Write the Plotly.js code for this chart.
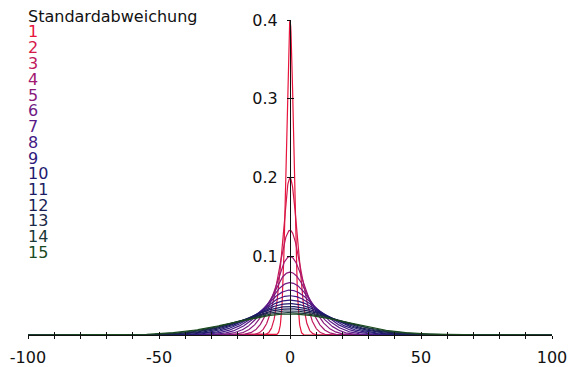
<!DOCTYPE html>
<html>
<head>
<meta charset="utf-8">
<script src="https://cdn.plot.ly/plotly-3.0.1.min.js"></script>
<style>
  html, body { margin: 0; padding: 0; background: #fff; }
  #chart { width: 571px; height: 367px; }
</style>
</head>
<body>
<div id="chart"></div>
<script>
// ---- data ----
const legendTitle = "Standardabweichung";
const sigmas = [1, 2, 3, 4, 5, 6, 7, 8, 9, 10, 11, 12, 13, 14, 15];
const mean = 0;
const seriesColors = [
  "#e8143c", "#d61848", "#c0185c", "#a21870", "#8a1a7c",
  "#701a84", "#581a88", "#421a84", "#2e1a7c", "#221a70",
  "#1c1c64", "#1a1e56", "#1a2848", "#1a3838", "#1a4a1e"
];
const xTickVals = [-100, -90, -80, -70, -60, -50, -40, -30, -20, -10, 0, 10, 20, 30, 40, 50, 60, 70, 80, 90, 100];
const xTickText = ["-100", "", "", "", "", "-50", "", "", "", "", "0", "", "", "", "", "50", "", "", "", "", "100"];
const yTickVals = [0.1, 0.2, 0.3, 0.4];
const yTickText = ["0.1", "0.2", "0.3", "0.4"];
const xRange = [-100, 100];
const yRange = [0, 0.4];

// ---- density curves as drawn in the source: peak 1/(σ√(2π)), exponent -x²/(4σ²) ----
const xs = [];
for (let i = 0; i <= 1600; i++) xs.push(xRange[0] + i * (xRange[1] - xRange[0]) / 1600);

const traces = sigmas.map((s, k) => ({
  type: "scatter",
  mode: "lines",
  x: xs,
  y: xs.map(x => Math.exp(-((x - mean) ** 2) / (4 * s * s)) / (s * Math.sqrt(2 * Math.PI))),
  line: { color: seriesColors[k], width: 1.2 },
  showlegend: false,
  hoverinfo: "skip",
  cliponaxis: false
}));

// dummy trace for overlay axes (crossing ticks)
traces.push({ type: "scatter", x: [xRange[0]], y: [0], xaxis: "x2", yaxis: "y2", mode: "markers", marker: { opacity: 0 }, showlegend: false, hoverinfo: "skip" });

const fontFam = "DejaVu Sans, sans-serif";
const figH = 367, marginTop = 20, marginBottom = 32, marginLeft = 28, plotW = 571 - 28 - 19;
const plotH = figH - marginTop - marginBottom;
const pyToPaper = py => (figH - marginBottom - py) / plotH;
const pxToPaper = px => (px - marginLeft) / plotW;

const annotations = [{
  xref: "paper", yref: "paper", x: pxToPaper(27), y: pyToPaper(16),
  xanchor: "left", yanchor: "middle", showarrow: false,
  text: legendTitle, font: { family: fontFam, size: 16, color: "#111" }, borderpad: 0
}].concat(sigmas.map((s, k) => ({
  xref: "paper", yref: "paper", x: pxToPaper(27), y: pyToPaper(32 + 15.75 * k),
  xanchor: "left", yanchor: "middle", showarrow: false,
  text: String(s), font: { family: fontFam, size: 16, color: seriesColors[k] }, borderpad: 0
})));

const layout = {
  width: 571, height: 367,
  margin: { l: marginLeft, r: 19, t: marginTop, b: marginBottom, pad: 0 },
  paper_bgcolor: "#fff", plot_bgcolor: "#fff",
  font: { family: fontFam, size: 16, color: "#111" },
  showlegend: false,
  xaxis: {
    range: xRange, showgrid: false, zeroline: false,
    showline: true, linecolor: "#111", linewidth: 1, layer: "above traces",
    tickmode: "array", tickvals: xTickVals, ticktext: xTickText,
    ticks: "outside", ticklen: 3, tickwidth: 1, tickcolor: "#111",
    ticklabelstandoff: 5,
    tickfont: { family: fontFam, size: 16, color: "#111" },
    anchor: "y", fixedrange: true
  },
  xaxis2: {
    range: xRange, overlaying: "x", anchor: "y2", side: "bottom",
    showgrid: false, zeroline: false, showline: false,
    tickmode: "array", tickvals: xTickVals, showticklabels: false,
    ticks: "inside", ticklen: 3, tickwidth: 1, tickcolor: "#111"
  },
  yaxis: {
    range: yRange, showgrid: false, zeroline: false,
    anchor: "free", position: 0.5, side: "left",
    showline: true, linecolor: "#111", linewidth: 1, layer: "above traces",
    tickmode: "array", tickvals: yTickVals, ticktext: yTickText,
    ticks: "outside", ticklen: 3, tickwidth: 1, tickcolor: "#111",
    ticklabelstandoff: 6,
    tickfont: { family: fontFam, size: 16, color: "#111" },
    fixedrange: true
  },
  yaxis2: {
    range: yRange, overlaying: "y", anchor: "free", position: 0.5, side: "left",
    showgrid: false, zeroline: false, showline: false,
    tickmode: "array", tickvals: yTickVals, showticklabels: false,
    ticks: "inside", ticklen: 3, tickwidth: 1, tickcolor: "#111", layer: "above traces"
  },
  annotations: annotations
};

Plotly.newPlot("chart", traces, layout, { displayModeBar: false, staticPlot: true });
</script>
</body>
</html>
